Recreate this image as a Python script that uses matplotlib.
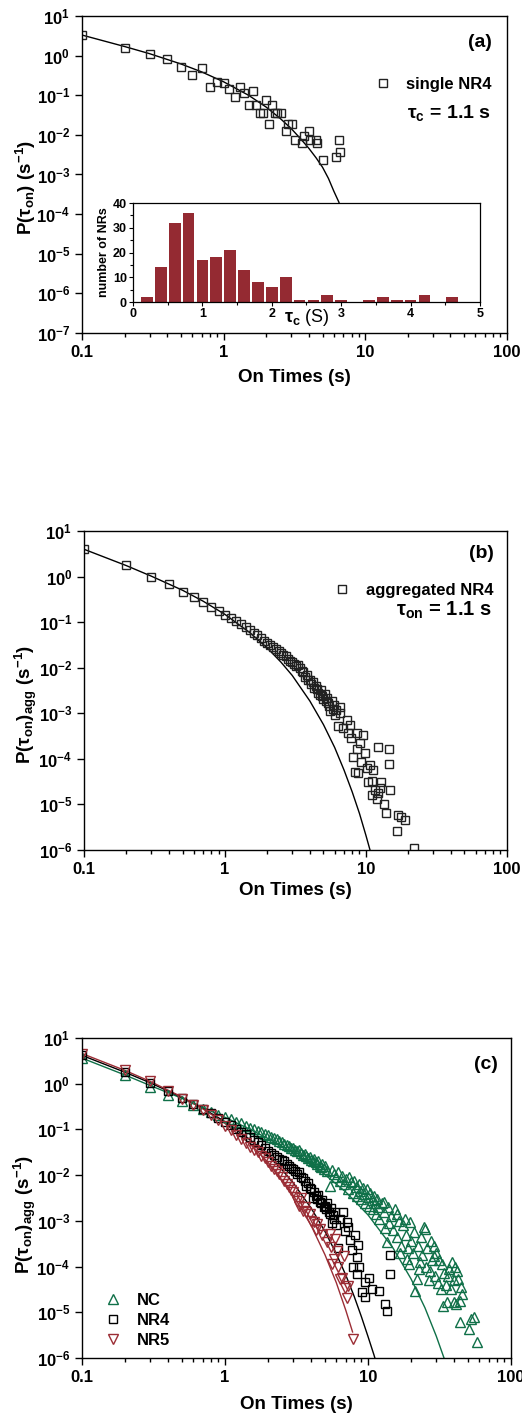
import numpy as np
import matplotlib
matplotlib.use('Agg')
import matplotlib.pyplot as plt
from matplotlib.ticker import FuncFormatter, LogLocator, NullLocator, NullFormatter, MultipleLocator

plt.rcParams['font.family'] = ['Liberation Sans', 'DejaVu Sans']
plt.rcParams['font.weight'] = 'bold'
plt.rcParams['mathtext.fontset'] = 'custom'
plt.rcParams['mathtext.rm'] = 'Liberation Sans'
plt.rcParams['mathtext.bf'] = 'Liberation Sans:bold'
plt.rcParams['mathtext.it'] = 'Liberation Sans:italic'

GREEN = '#0f7048'
RED = '#9b2d35'
BAR = '#942a32'

# ---- panel (a): single NR4 ----
a_x = [0.1, 0.2, 0.3, 0.4, 0.5, 0.6, 0.7, 0.8, 0.9, 1.0, 1.1, 1.2, 1.3,
       1.4, 1.5, 1.6, 1.7, 1.8, 1.9, 2.0, 2.1, 2.2, 2.3, 2.4, 2.55, 2.75,
       2.85, 3.05, 3.2, 3.55, 3.7, 4.0, 4.1, 4.5, 4.6, 5.0, 6.2, 6.5, 6.6]
a_y = [3.3, 1.58, 1.08, 0.8, 0.52, 0.33, 0.48, 0.164, 0.21, 0.2, 0.148,
       0.091, 0.164, 0.112, 0.056, 0.13, 0.056, 0.036, 0.036, 0.075,
       0.0186, 0.056, 0.036, 0.036, 0.036, 0.0125, 0.0186, 0.0186, 0.0074,
       0.0061, 0.0092, 0.0125, 0.0074, 0.0074, 0.0061, 0.0023, 0.0027,
       0.0074, 0.0037]
a_fit_x = [0.1, 0.2, 0.3, 0.5, 0.7, 1.0, 1.5, 2.0, 2.5, 3.0, 3.5, 4.0, 4.5,
           5.0, 5.5, 6.0, 6.5, 7.0, 7.5, 8.0]
a_fit_log = [0.52, 0.23, 0.05, -0.21, -0.41, -0.66, -1.0, -1.3, -1.58,
             -1.84, -2.1, -2.34, -2.58, -2.82, -3.1, -3.42, -3.69, -4.0,
             -4.3, -4.6]

# inset histogram
tau_c = [0.2, 0.4, 0.6, 0.8, 1.0, 1.2, 1.4, 1.6, 1.8, 2.0, 2.2, 2.4, 2.6,
         2.8, 3.0, 3.2, 3.4, 3.6, 3.8, 4.0, 4.2, 4.4, 4.6]
n_nrs = [2, 14, 32, 36, 17, 18, 21, 13, 8, 6, 10, 1, 1, 3, 1, 0, 1, 2, 1, 1,
         3, 0, 2]

# ---- panel (b): aggregated NR4 ----
b_x = [0.1, 0.2, 0.3, 0.4, 0.5, 0.6, 0.7, 0.8, 0.9, 1.0,
       1.1, 1.2, 1.3, 1.4, 1.5, 1.6, 1.7, 1.8, 1.9, 2.0,
       2.1, 2.2, 2.3, 2.4, 2.5, 2.6, 2.7, 2.8, 2.9, 3.0,
       3.1, 3.2, 3.3, 3.4, 3.5, 3.6, 3.7, 3.8, 3.9, 4.0,
       4.1, 4.2, 4.3, 4.4, 4.5, 4.6, 4.7, 4.8, 4.9, 5.0,
       5.1, 5.2, 5.3, 5.4, 5.5, 5.6, 5.7, 5.8, 5.9, 6.0,
       6.1, 6.3, 6.5, 6.6, 6.9, 7.3, 7.5, 7.7, 7.9, 8.1,
       8.3, 8.6, 8.7, 8.8, 9.1, 9.3, 9.6, 9.8, 10.1, 10.4,
       10.7, 11.0, 11.1, 11.2, 11.6, 11.9, 12.1, 12.2, 12.5, 12.8,
       13.5, 13.9, 14.5, 14.6, 14.8, 16.6, 16.9, 17.8, 18.9, 21.8]
b_log = [0.60, 0.25, 0.00, -0.17, -0.33, -0.455, -0.565, -0.66, -0.75, -0.84,
         -0.90, -0.97, -1.03, -1.10, -1.17, -1.23, -1.29, -1.35, -1.41, -1.46,
         -1.50, -1.55, -1.60, -1.63, -1.68, -1.72, -1.75, -1.80, -1.86, -1.88,
         -1.91, -1.96, -1.95, -2.01, -2.08, -2.10, -2.20, -2.15, -2.26, -2.28,
         -2.35, -2.32, -2.44, -2.40, -2.46, -2.55, -2.60, -2.50, -2.63, -2.68,
         -2.58, -2.72, -2.66, -2.78, -2.85, -2.96, -2.74, -2.90, -2.82, -3.03,
         -2.92, -3.28, -3.00, -2.87, -3.33, -3.14, -3.44, -3.25, -3.55, -3.96,
         -4.28, -3.44, -3.79, -4.30, -3.66, -4.06, -3.47, -3.88, -4.20, -4.50,
         -4.13, -4.49, -4.79, -4.24, -4.68, -4.88, -3.75, -4.75, -4.64, -4.50,
         -4.99, -5.19, -3.78, -4.12, -4.69, -5.58, -5.23, -5.27, -5.34, -5.95]
b_fit_x = [0.1, 0.2, 0.3, 0.5, 0.7, 1.0, 1.5, 2.0, 2.5, 3.0, 4.0, 5.0, 6.0,
           7.0, 8.0, 9.0, 10.0, 10.8, 11.2]
b_fit_log = [0.60, 0.24, 0.01, -0.30, -0.54, -0.83, -1.23, -1.57, -1.88,
             -2.17, -2.73, -3.25, -3.75, -4.25, -4.73, -5.2, -5.68, -6.05,
             -6.25]

# ---- panel (c): NC, NR4, NR5 ----
nc_x = [0.1, 0.2, 0.3, 0.4, 0.5, 0.6, 0.7, 0.8, 0.9, 1.0,
        1.1, 1.2, 1.3, 1.4, 1.5, 1.6, 1.7, 1.8, 1.9, 2.0,
        2.1, 2.2, 2.3, 2.4, 2.5, 2.6, 2.7, 2.8, 2.9, 3.0,
        3.1, 3.2, 3.3, 3.4, 3.5, 3.6, 3.7, 3.8, 3.9, 4.0,
        4.1, 4.2, 4.3, 4.4, 4.5, 4.6, 4.7, 4.8, 4.9, 5.0,
        5.2, 5.4, 5.6, 5.8, 6.0, 6.2, 6.4, 6.6, 6.8, 7.0,
        7.2, 7.4, 7.6, 7.8, 8.0, 8.2, 8.4, 8.6, 8.8, 9.0,
        9.2, 9.4, 9.6, 9.8, 10.0, 10.2, 10.4, 10.6, 10.8, 11.0,
        11.2, 11.4, 11.6, 11.8, 12.0,
        12.5, 12.9, 13.0, 13.5, 13.8, 14.0, 14.5, 15.0, 15.5, 15.9,
        16.0, 16.5, 17.0, 17.5, 18.0, 18.5, 18.7, 19.0, 19.7, 20.0,
        20.5, 21.0, 21.4, 22.0, 22.5, 23.0, 23.5, 24.0, 24.5, 25.2,
        25.5, 26.0, 27.0, 27.5, 28.0, 28.8, 29.5, 30.0, 31.0, 32.3,
        33.0, 33.4, 34.0, 35.0, 35.9, 37.0, 38.6, 39.7, 40.0, 41.0,
        42.0, 42.7, 43.7, 44.5, 45.5, 50.7, 52.3, 55.0, 58.2,
        13.2, 16.8, 19.4, 22.8, 26.5, 29.0, 31.5, 36.0, 38.0, 40.8, 44.0]
nc_log = [0.57, 0.18, -0.07, -0.25, -0.37, -0.47, -0.55, -0.62, -0.68, -0.73,
          -0.78, -0.83, -0.87, -0.92, -0.96, -0.99, -1.03, -1.06, -1.10, -1.13,
          -1.16, -1.19, -1.22, -1.25, -1.28, -1.31, -1.33, -1.36, -1.40, -1.41,
          -1.44, -1.47, -1.46, -1.51, -1.55, -1.53, -1.58, -1.62, -1.60, -1.66,
          -1.69, -1.65, -1.72, -1.76, -1.70, -1.79, -1.83, -1.75, -1.86, -1.81,
          -1.90, -2.23, -1.88, -1.97, -2.05, -1.93, -2.12, -2.02, -2.20, -2.08,
          -2.30, -2.04, -2.16, -2.38, -2.12, -2.26, -2.45, -2.20, -2.34, -2.52,
          -2.28, -2.42, -2.60, -2.30, -2.48, -2.68, -2.38, -2.55, -2.75, -2.46,
          -2.62, -2.85, -2.52, -2.70, -2.95,
          -2.60, -2.59, -2.80, -3.47, -2.70, -3.05, -2.90, -3.20, -2.75, -2.85,
          -3.35, -3.00, -3.55, -3.10, -2.95, -3.30, -3.84, -3.60, -3.03, -3.45,
          -3.70, -3.25, -4.53, -4.27, -3.55, -3.90, -3.35, -3.75, -3.14, -3.18,
          -4.00, -3.60, -4.10, -3.45, -3.85, -3.76, -4.20, -3.70, -4.35, -4.49,
          -3.95, -4.86, -4.15, -4.40, -4.78, -4.05, -3.91, -4.78, -4.30, -4.82,
          -4.10, -4.27, -5.22, -4.45, -4.60, -5.37, -5.15, -5.11, -5.66,
          -3.15, -3.70, -3.95, -4.05, -4.30, -3.55, -3.85, -4.20, -4.50, -4.00,
          -4.75]
nr4_x = [0.1, 0.2, 0.3, 0.4, 0.5, 0.6, 0.7, 0.8, 0.9, 1.0,
         1.1, 1.2, 1.3, 1.4, 1.5, 1.6, 1.7, 1.8, 1.9, 2.0,
         2.1, 2.2, 2.3, 2.4, 2.5, 2.6, 2.7, 2.8, 2.9, 3.0,
         3.1, 3.2, 3.3, 3.4, 3.5, 3.6, 3.7, 3.8, 3.9, 4.0,
         4.1, 4.2, 4.3, 4.4, 4.5, 4.6, 4.7, 4.8, 4.9, 5.0,
         5.1, 5.2, 5.3, 5.4, 5.5, 5.6, 5.7, 5.8, 5.9, 6.0,
         6.2, 6.4, 6.7, 6.9, 7.1, 7.3, 7.5, 7.7, 7.8, 8.1, 8.4, 8.4,
         8.5, 8.7, 9.1, 9.5, 9.6, 10.2, 10.6, 12.0, 13.1, 13.5, 14.3, 14.3]
nr4_log = [0.62, 0.26, 0.02, -0.16, -0.32, -0.44, -0.55, -0.65, -0.74, -0.83,
           -0.91, -0.98, -1.05, -1.11, -1.17, -1.23, -1.28, -1.34, -1.40, -1.48,
           -1.52, -1.55, -1.61, -1.64, -1.67, -1.70, -1.76, -1.80, -1.84, -1.86,
           -1.92, -1.97, -1.93, -2.03, -2.07, -2.13, -2.23, -2.17, -2.28, -2.30,
           -2.51, -2.36, -2.45, -2.52, -2.43, -2.58, -2.62, -2.55, -2.70, -2.67,
           -2.75, -2.62, -2.80, -2.84, -2.72, -3.05, -2.88, -2.95, -2.80, -3.10,
           -3.60, -2.97, -2.80, -3.22, -3.03, -3.13, -3.42, -3.64, -4.00, -3.30,
           -3.80, -4.17, -3.53, -4.02, -4.55, -4.33, -4.67, -4.24, -4.48, -4.53,
           -4.82, -4.97, -3.75, -4.17]
nr5_x = [0.1, 0.2, 0.3, 0.4, 0.5, 0.6, 0.7, 0.8, 0.9, 1.0,
         1.1, 1.2, 1.3, 1.4, 1.5, 1.6, 1.7, 1.8, 1.9, 2.0,
         2.1, 2.2, 2.3, 2.4, 2.5, 2.6, 2.7, 2.8, 2.9, 3.0,
         3.1, 3.2, 3.3, 3.4, 3.5, 3.6, 3.7, 3.9, 4.0, 4.2,
         4.3, 4.4, 4.6, 4.8, 5.2, 5.4, 5.5, 5.6, 5.8, 5.9,
         6.1, 6.2, 6.4, 6.6, 6.8, 6.9, 7.1, 7.3, 7.9]
nr5_log = [0.66, 0.29, 0.05, -0.17, -0.33, -0.46, -0.57, -0.68, -0.80, -0.92,
           -1.02, -1.12, -1.22, -1.30, -1.38, -1.45, -1.50, -1.58, -1.63, -1.72,
           -1.80, -1.86, -1.90, -1.98, -2.05, -2.12, -2.20, -2.25, -2.33, -2.37,
           -2.48, -2.56, -2.67, -2.50, -2.78, -2.70, -2.81, -2.85, -3.00, -3.03,
           -3.21, -3.07, -3.18, -3.32, -3.47, -3.29, -3.58, -3.95, -3.84, -3.40,
           -3.65, -4.02, -4.27, -4.24, -3.76, -4.46, -4.68, -4.42, -5.59]

nc_fit_x = [0.1, 0.2, 0.3, 0.5, 0.7, 1.0, 1.5, 2.0, 3.0, 5.0, 7.0, 10.0, 15.0,
            20.0, 25.0, 30.0, 34.0, 36.0]
nc_fit_log = [0.56, 0.19, -0.04, -0.32, -0.52, -0.735, -1.0, -1.2, -1.51,
              -1.99, -2.37, -2.87, -3.6, -4.27, -4.9, -5.52, -6.0, -6.25]
nr4_fit_x = [0.1, 0.2, 0.3, 0.5, 0.7, 1.0, 1.5, 2.0, 2.5, 3.0, 4.0, 5.0, 6.0,
             7.0, 8.0, 9.0, 10.0, 11.0, 11.5]
nr4_fit_log = [0.62, 0.25, 0.02, -0.30, -0.54, -0.83, -1.23, -1.57, -1.88,
               -2.17, -2.72, -3.23, -3.72, -4.19, -4.65, -5.1, -5.53, -5.93,
               -6.13]
nr5_fit_x = [0.1, 0.2, 0.3, 0.5, 0.7, 1.0, 1.5, 2.0, 3.0, 4.0, 5.0, 6.0, 7.0,
             7.8]
nr5_fit_log = [0.66, 0.29, 0.05, -0.29, -0.55, -0.87, -1.32, -1.72, -2.44,
               -3.10, -3.74, -4.35, -4.96, -5.43]


def dec(v):
    return 10.0 ** np.array(v)


def style_log(ax, ymin_exp):
    ax.set_xscale('log')
    ax.set_yscale('log')
    ax.set_xlim(0.1, 100)
    ax.set_ylim(10.0 ** ymin_exp, 10.0)
    ax.set_xticks([0.1, 1, 10, 100])
    ax.set_xticklabels(['0.1', '1', '10', '100'])
    ax.xaxis.set_minor_locator(LogLocator(base=10, subs=np.arange(2, 10), numticks=20))
    ax.xaxis.set_minor_formatter(NullFormatter())
    ax.yaxis.set_major_locator(LogLocator(base=10, numticks=20))
    ax.yaxis.set_minor_locator(NullLocator())
    ax.yaxis.set_major_formatter(FuncFormatter(
        lambda v, p: r'$\mathbf{10^{%d}}$' % int(round(np.log10(v)))))
    ax.tick_params(which='both', direction='out', top=False, right=False,
                   labelsize=12, width=1.0)
    ax.tick_params(which='major', length=5)
    ax.tick_params(which='minor', length=3)
    for s in ax.spines.values():
        s.set_linewidth(1.0)
    ax.set_xlabel('On Times (s)', fontsize=13.5, fontweight='bold')


fig = plt.figure(figsize=(5.22, 14.18), dpi=100)

# (a)
ax_a = fig.add_axes([0.157, 0.7652, 0.814, 0.2235])
style_log(ax_a, -7)
ax_a.plot(a_fit_x, dec(a_fit_log), 'k-', lw=1.0)
ax_a.plot(a_x, a_y, 's', mfc='none', mec='#222222', mew=1.0, ms=5.5,
          ls='none', label='single NR4')
ax_a.set_ylabel(r'$\mathbf{P(}\mathrm{\tau}_{\mathbf{on}}\mathbf{)\ (s^{-1})}$',
                fontsize=13.5)
ax_a.yaxis.set_label_coords(-0.104, 0.46)
ax_a.xaxis.set_label_coords(0.5, -0.114)
ax_a.text(0.965, 0.915, '(a)', transform=ax_a.transAxes, ha='right',
          va='center', fontsize=14, fontweight='bold')
ax_a.legend(loc='center right', bbox_to_anchor=(0.965, 0.785), frameon=False,
            handlelength=1.0, handletextpad=0.9, borderpad=0, borderaxespad=0,
            prop={'weight': 'bold', 'size': 12})
ax_a.text(0.962, 0.694, r'$\mathrm{\tau}_{\mathbf{c}}$ = 1.1 s',
          transform=ax_a.transAxes, ha='right', va='center', fontsize=14,
          fontweight='bold')

ax_in = fig.add_axes([0.2548, 0.787, 0.6647, 0.0698])
ax_in.set_facecolor('white')
ax_in.bar(tau_c, n_nrs, width=0.17, color=BAR, edgecolor='none')
ax_in.set_xlim(0, 5)
ax_in.set_ylim(0, 40)
ax_in.xaxis.set_major_locator(MultipleLocator(1))
ax_in.xaxis.set_minor_locator(MultipleLocator(0.5))
ax_in.yaxis.set_major_locator(MultipleLocator(10))
ax_in.yaxis.set_minor_locator(MultipleLocator(5))
ax_in.tick_params(which='both', direction='out', top=False, right=False,
                  labelsize=9, width=0.8, pad=1.5)
ax_in.tick_params(which='major', length=3)
ax_in.tick_params(which='minor', length=2)
for s in ax_in.spines.values():
    s.set_linewidth(0.9)
ax_in.set_ylabel('number of NRs', fontsize=9, fontweight='bold', labelpad=2)
ax_in.set_xlabel(r'$\mathrm{\tau}_{\mathrm{c}}$ (S)', fontsize=13,
                 fontweight='normal')
ax_in.xaxis.set_label_coords(0.5, -0.05)

# (b)
ax_b = fig.add_axes([0.161, 0.4006, 0.81, 0.2249])
style_log(ax_b, -6)
ax_b.plot(b_fit_x, dec(b_fit_log), 'k-', lw=1.0)
ax_b.plot(b_x, dec(b_log), 's', mfc='none', mec='#222222', mew=1.0, ms=5.5,
          ls='none', label='aggregated NR4')
ax_b.set_ylabel(r'$\mathbf{P(}\mathrm{\tau}_{\mathbf{on}}\mathbf{)_{agg}\ (s^{-1})}$',
                fontsize=13.5)
ax_b.yaxis.set_label_coords(-0.106, 0.455)
ax_b.xaxis.set_label_coords(0.5, -0.1)
ax_b.text(0.97, 0.93, '(b)', transform=ax_b.transAxes, ha='right',
          va='center', fontsize=14, fontweight='bold')
ax_b.legend(loc='center right', bbox_to_anchor=(0.968, 0.815), frameon=False,
            handlelength=1.0, handletextpad=0.9, borderpad=0, borderaxespad=0,
            prop={'weight': 'bold', 'size': 12})
ax_b.text(0.965, 0.75, r'$\mathrm{\tau}_{\mathbf{on}}$ = 1.1 s',
          transform=ax_b.transAxes, ha='right', va='center', fontsize=14.5,
          fontweight='bold')

# (c)
ax_c = fig.add_axes([0.157, 0.0423, 0.822, 0.2257])
style_log(ax_c, -6)
ax_c.plot(nc_fit_x, dec(nc_fit_log), '-', color=GREEN, lw=1.0)
ax_c.plot(nr4_fit_x, dec(nr4_fit_log), 'k-', lw=1.0)
ax_c.plot(nr5_fit_x, dec(nr5_fit_log), '-', color=RED, lw=1.0)
ax_c.plot(nc_x, dec(nc_log), '^', mfc='none', mec=GREEN, mew=1.0, ms=6.5,
          ls='none', label='NC')
ax_c.plot(nr4_x, dec(nr4_log), 's', mfc='none', mec='k', mew=1.0, ms=5.5,
          ls='none', label='NR4')
ax_c.plot(nr5_x, dec(nr5_log), 'v', mfc='none', mec=RED, mew=1.0, ms=6.5,
          ls='none', label='NR5')
ax_c.set_ylabel(r'$\mathbf{P(}\mathrm{\tau}_{\mathbf{on}}\mathbf{)_{agg}\ (s^{-1})}$',
                fontsize=13.5)
ax_c.yaxis.set_label_coords(-0.103, 0.45)
ax_c.xaxis.set_label_coords(0.5, -0.12)
ax_c.text(0.97, 0.916, '(c)', transform=ax_c.transAxes, ha='right',
          va='center', fontsize=14, fontweight='bold')
ax_c.legend(loc='lower left', bbox_to_anchor=(0.054, 0.031), frameon=False,
            handlelength=1.0, handletextpad=0.9, borderpad=0, borderaxespad=0,
            labelspacing=0.3, prop={'weight': 'bold', 'size': 12})

fig.savefig('out.png', dpi=100)
